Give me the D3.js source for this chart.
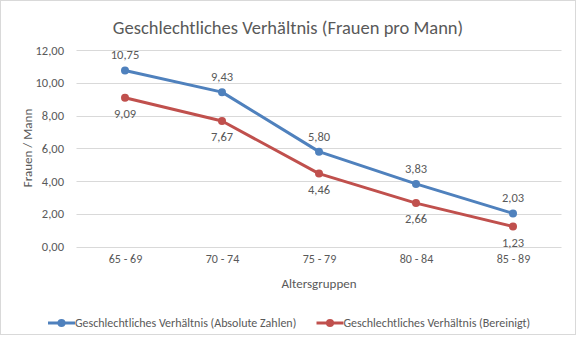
<!DOCTYPE html>
<html>
<head>
<meta charset="utf-8">
<script src="https://cdn.jsdelivr.net/npm/d3@7"></script>
<style>
  body { margin: 0; background: #fff; }
  svg text { font-family: Carlito, Lato, "Open Sans", sans-serif; fill: #595959; }
</style>
</head>
<body>
<div id="chart"></div>
<script>
// data
var categories = ['65 - 69', '70 - 74', '75 - 79', '80 - 84', '85 - 89'];
var absolute = [10.75, 9.43, 5.80, 3.83, 2.03];
var adjusted = [9.09, 7.67, 4.46, 2.66, 1.23];
var yTicks = [0, 2, 4, 6, 8, 10, 12];
var seriesNames = ['Geschlechtliches Verhältnis (Absolute Zahlen)', 'Geschlechtliches Verhältnis (Bereinigt)'];

var svgWidth = 577, svgHeight = 337;

var svg = d3.select('#chart').append('svg')
  .attr('width', svgWidth)
  .attr('height', svgHeight);

// chart frame
svg.append('rect')
  .attr('x', 0.5).attr('y', 0.5)
  .attr('width', 575).attr('height', 334)
  .attr('fill', '#fff')
  .attr('stroke', '#d9d9d9');

var xScale = d3.scalePoint()
  .domain(categories)
  .range([76.5, 561.5])
  .padding(0.5);

var yScale = d3.scaleLinear()
  .domain([0, 12])
  .range([246.7, 50]);

var fmt = function(v) { return d3.format('.2f')(v).replace('.', ','); };

// gridlines
svg.append('g').selectAll('line')
  .data(yTicks)
  .enter().append('line')
  .attr('x1', 76.5).attr('x2', 561.5)
  .attr('y1', d => Math.round(yScale(d)) + 0.5)
  .attr('y2', d => Math.round(yScale(d)) + 0.5)
  .attr('stroke', '#d9d9d9')
  .attr('stroke-width', 1);

// y axis labels
var yAxis = d3.axisLeft(yScale).tickValues(yTicks).tickFormat(fmt).tickSize(0).tickPadding(0);
var yG = svg.append('g')
  .attr('transform', 'translate(64,0)')
  .call(yAxis);
yG.select('.domain').remove();
yG.selectAll('text').style('font-size', '12.5px').attr('fill', '#595959');

// x axis labels
var xAxis = d3.axisBottom(xScale).tickSize(0).tickPadding(0);
var xG = svg.append('g')
  .attr('transform', 'translate(0,254)')
  .call(xAxis);
xG.select('.domain').remove();
xG.selectAll('text').style('font-size', '12px').attr('fill', '#595959');

// titles
svg.append('text')
  .attr('x', 288).attr('y', 34)
  .attr('text-anchor', 'middle')
  .style('font-size', '18.5px')
  .style('font-weight', 300)
  .text('Geschlechtliches Verhältnis (Frauen pro Mann)');

svg.append('text')
  .attr('x', 319).attr('y', 288)
  .attr('text-anchor', 'middle')
  .style('font-size', '13px')
  .text('Altersgruppen');

svg.append('text')
  .attr('transform', 'translate(32,148) rotate(-90)')
  .attr('text-anchor', 'middle')
  .style('font-size', '13px')
  .text('Frauen / Mann');

var series = [
  { values: absolute, color: '#4f81bd', above: true },
  { values: adjusted, color: '#c0504d', above: false }
];

var line = d3.line()
  .x((d, i) => xScale(categories[i]))
  .y(d => yScale(d));

series.forEach(function(s) {
  svg.append('path')
    .datum(s.values)
    .attr('d', line)
    .attr('fill', 'none')
    .attr('stroke', s.color)
    .attr('stroke-width', 3)
    .attr('stroke-linejoin', 'round')
    .attr('stroke-linecap', 'round');

  svg.append('g').selectAll('circle')
    .data(s.values)
    .enter().append('circle')
    .attr('cx', (d, i) => xScale(categories[i]))
    .attr('cy', d => yScale(d))
    .attr('r', 4)
    .attr('fill', s.color);

  svg.append('g').selectAll('text')
    .data(s.values)
    .enter().append('text')
    .attr('x', (d, i) => xScale(categories[i]))
    .attr('y', d => s.above ? yScale(d) - 11 : yScale(d) + 20)
    .attr('text-anchor', 'middle')
    .style('font-size', '12.5px')
    .text(fmt);
});

// legend
var legendX = [48, 316.5];
seriesNames.forEach(function(name, i) {
  var g = svg.append('g').attr('transform', 'translate(' + legendX[i] + ',323)');
  g.append('line')
    .attr('x1', 0).attr('x2', 27)
    .attr('stroke', series[i].color)
    .attr('stroke-width', 3);
  g.append('circle')
    .attr('cx', 13.5).attr('r', 4)
    .attr('fill', series[i].color);
  g.append('text')
    .attr('x', 27).attr('y', 4)
    .style('font-size', '12px')
    .text(name);
});
</script>
</body>
</html>
